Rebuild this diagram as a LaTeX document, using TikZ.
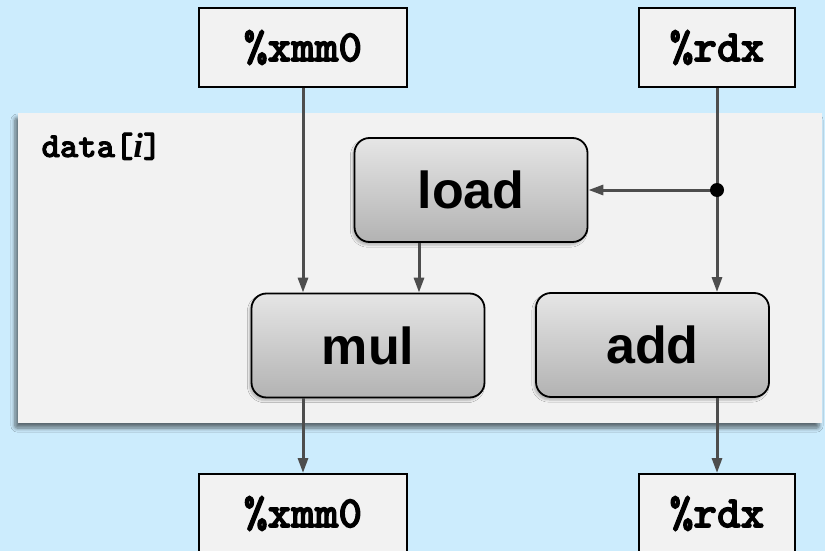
\documentclass[tikz,border=0pt]{standalone}
\usepackage{fontspec}
\setmainfont{Liberation Sans}
\setmonofont{lmmonolt10-regular.otf}[BoldFont=lmmonolt10-bold.otf,BoldFeatures={FakeBold=2.5}]
\newfontfamily\ivar{Liberation Serif}
\usetikzlibrary{arrows.meta}
\usetikzlibrary{shadows.blur}

\definecolor{bgblue}{RGB}{204,236,253}
\definecolor{panelgray}{RGB}{242,242,242}
\definecolor{wire}{RGB}{77,77,77}

\begin{document}
\begin{tikzpicture}[x=1pt,y=-1pt,
		reg/.style={draw,line width=2pt,fill=panelgray,minimum height=79pt,inner sep=0pt,
			font=\ttfamily\bfseries\fontsize{45}{45}\selectfont},
		op/.style={draw,line width=1.8pt,rounded corners=15pt,top color=black!10,bottom color=black!30,
			minimum width=233pt,minimum height=104pt,inner sep=0pt,
			font=\bfseries\fontsize{52}{52}\selectfont,
			blur shadow={shadow xshift=-2pt,shadow yshift=-3pt,shadow opacity=25,shadow blur steps=5}},
		loopbody/.style={fill=panelgray,minimum width=804pt,minimum height=310pt,inner sep=0pt,
			blur shadow={shadow xshift=-3pt,shadow yshift=-5pt,shadow opacity=55,shadow blur radius=4pt,
				shadow blur steps=6,shadow blur extra rounding=2pt}},
		flow/.style={-{Triangle[width=10pt,length=15pt]},line width=3pt,wire}]
			\useasboundingbox (0,0) rectangle (825,551);
			\clip (0,0) rectangle (825,551);
			\fill[bgblue] (0,0) rectangle (825,551);

			% loop body
			\node[loopbody] (body) at (420,268) {};
			\node[anchor=base west,font=\ttfamily\bfseries\fontsize{35}{35}\selectfont] (idx) at (38,157) {data[{\ivar\itshape i}]};

			\node[reg,minimum width=208pt] (xin) at (303,47.5) {\%xmm0};
			\node[reg,minimum width=156pt] (rin) at (717,47.5) {\%rdx};
			\node[op] (load) at (471,190) {load};
			\node[op] (mul) at (368,345.5) {mul};
			\node[op] (add) at (652.5,345) {add};
			\node[reg,minimum width=208pt] (xout) at (303,513.5) {\%xmm0};
			\node[reg,minimum width=156pt] (rout) at (717,513.5) {\%rdx};
			\coordinate (tap) at (rin.south |- load.east);

			\path[flow]
			(xin) edge (xin.south |- mul.north)
			(rin) edge (rin.south |- add.north)
			(tap) edge (load)
			([xshift=-52pt]load.south) edge ([xshift=-52pt]load.south |- mul.north)
			(xout.north |- mul.south) edge (xout)
			(rout.north |- add.south) edge (rout)
			;
			\fill (tap) circle (7pt);
		\end{tikzpicture}
\end{document}
